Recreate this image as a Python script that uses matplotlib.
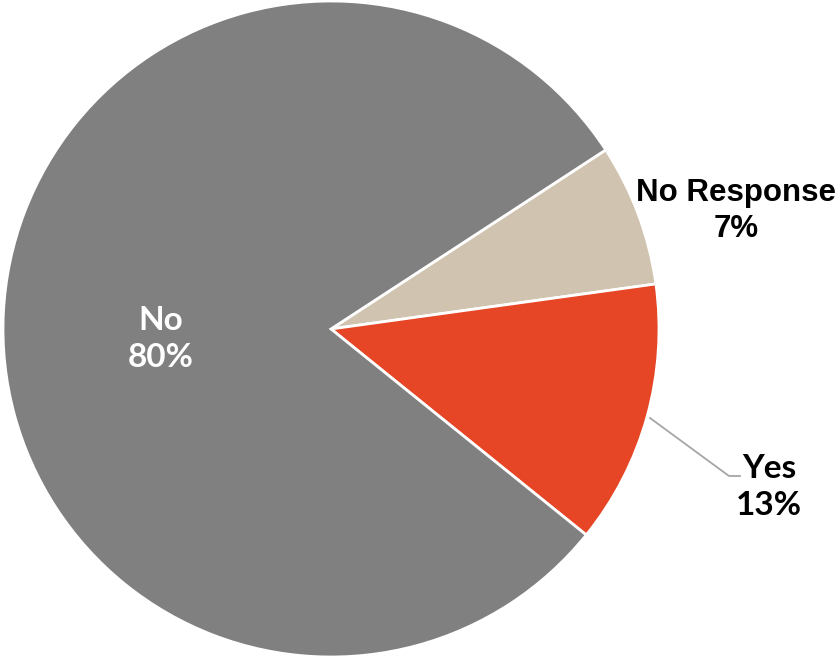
import matplotlib
matplotlib.use("Agg")
import matplotlib.pyplot as plt

categories = ["No Response", "Yes", "No"]
values = [7, 13, 80]
colors = ["#D0C4B1", "#E64626", "#808080"]

fig = plt.figure(figsize=(8.4, 6.59), dpi=100)
ax = fig.add_axes([0, 0, 1, 1])
ax.pie(values, colors=colors, startangle=33.1, counterclock=False,
       radius=1.0, center=(0, 0),
       wedgeprops=dict(edgecolor="white", linewidth=2))
R = 328.0
ax.set_xlim(-331 / R, (840 - 331) / R)
ax.set_ylim(-(659 - 329) / R, 329 / R)
ax.set_aspect("auto")
ax.axis("off")

def px(x, y):
    return (x - 331) / R, (329 - y) / R

ax.text(*px(161, 339), f"{categories[2]}\n{values[2]}%", color="white",
        fontsize=24, fontweight="bold", family=["Lato", "DejaVu Sans"],
        ha="center", va="center", linespacing=1.3)
ax.text(*px(736, 211), f"{categories[0]}\n{values[0]}%", color="black",
        fontsize=22.5, fontweight="bold",
        family=["Liberation Sans Narrow", "Liberation Sans", "DejaVu Sans"],
        ha="center", va="center", linespacing=1.25)
ax.text(*px(769, 487), f"{categories[1]}\n{values[1]}%", color="black",
        fontsize=24, fontweight="bold", family=["Lato", "DejaVu Sans"],
        ha="center", va="center", linespacing=1.35)
lx = [px(650, 418), px(729, 476), px(740, 476)]
ax.plot([p[0] for p in lx], [p[1] for p in lx], color="#A6A6A6", lw=1.3)

fig.savefig("out.png", dpi=100)
